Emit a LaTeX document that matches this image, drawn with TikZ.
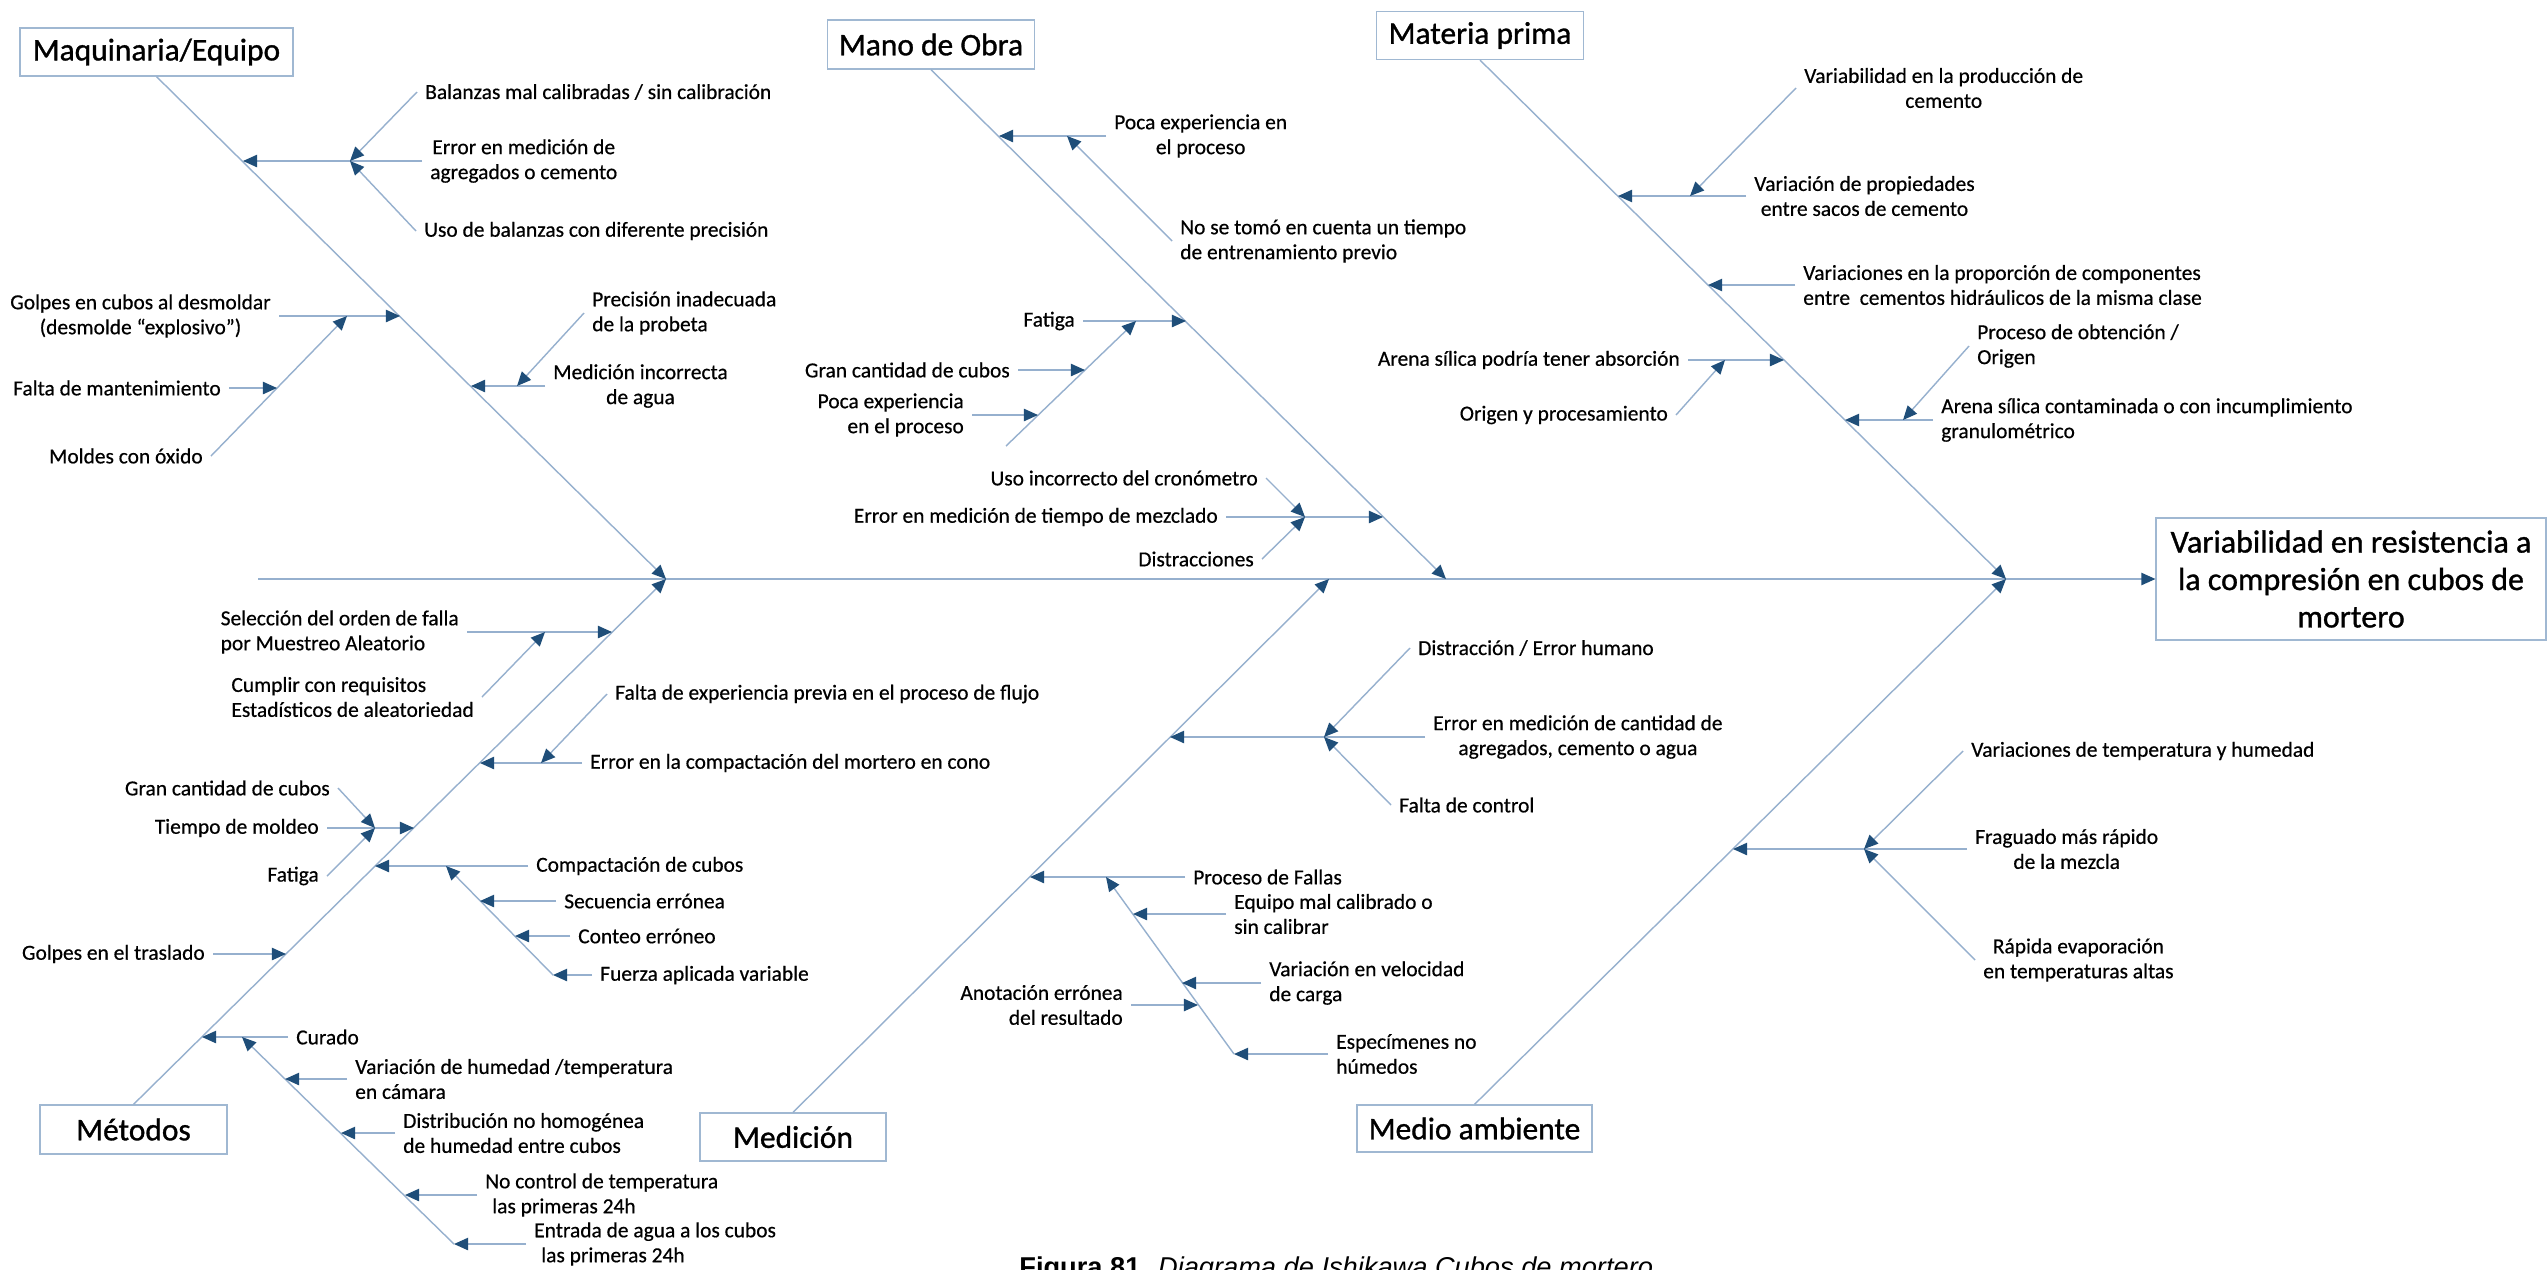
\documentclass[tikz,border=0pt]{standalone}
\usepackage{fontspec}
\setmainfont{Carlito}[FakeBold=0.5]
\newfontfamily\titlefont{Carlito}[FakeBold=1.0]
\newfontfamily\capfont{Liberation Sans}
\usetikzlibrary{arrows.meta}

\definecolor{boneline}{RGB}{150,176,206}
\definecolor{boxline}{RGB}{160,184,210}
\definecolor{tipblue}{RGB}{31,78,121}

\tikzstyle{cat} = [draw=boxline, line width=0.7pt, inner sep=0pt, font=\titlefont\fontsize{17.9}{21}\selectfont]
\tikzstyle{cause} = [inner xsep=4.5pt, inner ysep=1pt, font=\fontsize{12.2}{14.2}\selectfont]

\begin{document}
\begin{tikzpicture}[x=0.02cm, y=-0.02cm]
  \tikzset{arr/.style={draw=boneline, line width=0.8pt, -{Triangle[length=8pt,width=7pt,color=tipblue]}}}
  \fill[white] (0,0) rectangle (2548,1269);
  \useasboundingbox (0,0) rectangle (2548,1269);

  % effect and the six categories
  \node[cat, minimum width=7.8cm, minimum height=2.44cm, align=center, font=\titlefont\fontsize{18.2}{21.3}\selectfont] (effect) at (2351,579)
    {Variabilidad en resistencia a\\la compresión en cubos de\\mortero};
  \node[cat, minimum width=5.46cm, minimum height=0.96cm] (maq) at (156.5,52) {Maquinaria/Equipo};
  \node[cat, minimum width=4.14cm, minimum height=0.98cm] (mano) at (931,44.5) {Mano de Obra};
  \node[cat, minimum width=4.14cm, minimum height=0.96cm] (mat) at (1480,35.5) {Materia prima};
  \node[cat, minimum width=3.74cm, minimum height=0.98cm] (met) at (133.5,1129.5) {Métodos};
  \node[cat, minimum width=3.72cm, minimum height=0.96cm] (med) at (793,1137) {Medición};
  \node[cat, minimum width=4.70cm, minimum height=0.94cm] (amb) at (1474.5,1128.5) {Medio ambiente};

  % spine
  \coordinate (tail) at (258,579);
  \coordinate (J1) at (666,579);
  \coordinate (J2) at (1329,579);
  \coordinate (J3) at (1446,579);
  \coordinate (J4) at (2006,579);
  \draw[arr] (tail) -- (effect.west);
  \draw[arr] (maq.south) -- (J1);
  \draw[arr] (met.north) -- (J1);
  \draw[arr] (med.north) -- (J2);
  \draw[arr] (mano.south) -- (J3);
  \draw[arr] (mat.south) -- (J4);
  \draw[arr] (amb.north) -- (J4);

  % Maquinaria/Equipo
  \node[cause, anchor=west, align=center] (mq1t) at (422,161) {Error en medición de\\agregados o cemento};
  \node[cause, anchor=west] (mq1a) at (417,92) {Balanzas mal calibradas / sin calibración};
  \node[cause, anchor=west] (mq1b) at (416,231) {Uso de balanzas con diferente precisión};
  \coordinate (mq1) at (243,161);
  \coordinate (mq1j) at (350,161);
  \draw[arr] (mq1t.west) -- (mq1);
  \draw[arr] (mq1a.west) -- (mq1j);
  \draw[arr] (mq1b.west) -- (mq1j);

  \node[cause, anchor=east, align=center] (mq2t) at (279,316) {Golpes en cubos al desmoldar\\(desmolde “explosivo”)};
  \node[cause, anchor=east] (mq2a) at (211,456) {Moldes con óxido};
  \node[cause, anchor=east] (mq2b) at (229,388) {Falta de mantenimiento};
  \coordinate (mq2) at (400,316);
  \coordinate (mq2j) at (347,316);
  \coordinate (mq2k) at (277,388);
  \draw[arr] (mq2t.east) -- (mq2);
  \draw[arr] (mq2a.east) -- (mq2j);
  \draw[arr] (mq2b.east) -- (mq2k);

  \node[cause, anchor=west, align=center] (mq3t) at (545,386) {Medición incorrecta\\de agua};
  \node[cause, anchor=west, align=left] (mq3a) at (584,313) {Precisión inadecuada\\de la probeta};
  \coordinate (mq3) at (471,386);
  \coordinate (mq3j) at (517,386);
  \draw[arr] (mq3t.west) -- (mq3);
  \draw[arr] (mq3a.west) -- (mq3j);

  % Mano de Obra
  \node[cause, anchor=west, align=center] (mo1t) at (1106,136) {Poca experiencia en\\el proceso};
  \node[cause, anchor=west, align=left] (mo1a) at (1172,241) {No se tomó en cuenta un tiempo\\de entrenamiento previo};
  \coordinate (mo1) at (999,136);
  \coordinate (mo1j) at (1067,136);
  \draw[arr] (mo1t.west) -- (mo1);
  \draw[arr] (mo1a.west) -- (mo1j);

  \node[cause, anchor=east] (mo2t) at (1083,321) {Fatiga};
  \node[cause, anchor=east] (mo2a) at (1018,370) {Gran cantidad de cubos};
  \node[cause, anchor=east, align=right] (mo2b) at (972,415) {Poca experiencia\\en el proceso};
  \coordinate (mo2) at (1186,321);
  \coordinate (mo2j) at (1136,321);
  \coordinate (mo2s) at (1006,446);
  \coordinate (mo2k) at (1085,370);
  \coordinate (mo2l) at (1038,415);
  \draw[arr] (mo2t.east) -- (mo2);
  \draw[arr] (mo2s) -- (mo2j);
  \draw[arr] (mo2a.east) -- (mo2k);
  \draw[arr] (mo2b.east) -- (mo2l);

  \node[cause, anchor=east] (mo3t) at (1226,517) {Error en medición de tiempo de mezclado};
  \node[cause, anchor=east] (mo3a) at (1266,478) {Uso incorrecto del cronómetro};
  \node[cause, anchor=east] (mo3b) at (1262,559) {Distracciones};
  \coordinate (mo3) at (1383,517);
  \coordinate (mo3j) at (1305,517);
  \draw[arr] (mo3t.east) -- (mo3);
  \draw[arr] (mo3a.east) -- (mo3j);
  \draw[arr] (mo3b.east) -- (mo3j);

  % Materia prima
  \node[cause, anchor=west, align=center] (mp1t) at (1746,196) {Variación de propiedades\\entre sacos de cemento};
  \node[cause, anchor=west, align=center] (mp1a) at (1796,88) {Variabilidad en la producción de\\cemento};
  \coordinate (mp1) at (1618,196);
  \coordinate (mp1j) at (1690,196);
  \draw[arr] (mp1t.west) -- (mp1);
  \draw[arr] (mp1a.west) -- (mp1j);

  \node[cause, anchor=west, align=left] (mp2t) at (1795,285) {Variaciones en la proporción de componentes\\entre\ \ cementos hidráulicos de la misma clase};
  \coordinate (mp2) at (1708,285);
  \draw[arr] (mp2t.west) -- (mp2);

  \node[cause, anchor=east] (mp3t) at (1688,360) {Arena sílica podría tener absorción};
  \node[cause, anchor=east] (mp3a) at (1676,415) {Origen y procesamiento};
  \coordinate (mp3) at (1784,360);
  \coordinate (mp3j) at (1725,360);
  \draw[arr] (mp3t.east) -- (mp3);
  \draw[arr] (mp3a.east) -- (mp3j);

  \node[cause, anchor=west, align=left] (mp4t) at (1933,420) {Arena sílica contaminada o con incumplimiento\\granulométrico};
  \node[cause, anchor=west, align=left] (mp4a) at (1969,346) {Proceso de obtención /\\Origen};
  \coordinate (mp4) at (1845,420);
  \coordinate (mp4j) at (1903,420);
  \draw[arr] (mp4t.west) -- (mp4);
  \draw[arr] (mp4a.west) -- (mp4j);

  % Métodos
  \node[cause, anchor=east, align=left] (mt1t) at (467,632) {Selección del orden de falla\\por Muestreo Aleatorio};
  \node[cause, anchor=east, align=left] (mt1a) at (482,697) {Cumplir con requisitos\\Estadísticos de aleatoriedad};
  \coordinate (mt1) at (612,632);
  \coordinate (mt1j) at (545,632);
  \draw[arr] (mt1t.east) -- (mt1);
  \draw[arr] (mt1a.east) -- (mt1j);

  \node[cause, anchor=west] (mt2t) at (582,763) {Error en la compactación del mortero en cono};
  \node[cause, anchor=west] (mt2a) at (607,694) {Falta de experiencia previa en el proceso de flujo};
  \coordinate (mt2) at (480,763);
  \coordinate (mt2j) at (541,763);
  \draw[arr] (mt2t.west) -- (mt2);
  \draw[arr] (mt2a.west) -- (mt2j);

  \node[cause, anchor=east] (mt3t) at (327,828) {Tiempo de moldeo};
  \node[cause, anchor=east] (mt3a) at (338,788) {Gran cantidad de cubos};
  \node[cause, anchor=east] (mt3b) at (327,876) {Fatiga};
  \coordinate (mt3) at (414,828);
  \coordinate (mt3j) at (375,828);
  \draw[arr] (mt3t.east) -- (mt3);
  \draw[arr] (mt3a.east) -- (mt3j);
  \draw[arr] (mt3b.east) -- (mt3j);

  \node[cause, anchor=west] (mt4t) at (528,866) {Compactación de cubos};
  \node[cause, anchor=west] (mt4a) at (556,901) {Secuencia errónea};
  \node[cause, anchor=west] (mt4b) at (570,936) {Conteo erróneo};
  \node[cause, anchor=west] (mt4c) at (592,975) {Fuerza aplicada variable};
  \coordinate (mt4) at (375,866);
  \coordinate (mt4j) at (446,866);
  \coordinate (mt4k) at (480,901);
  \coordinate (mt4l) at (515,936);
  \coordinate (mt4m) at (553,975);
  \draw[arr] (mt4t.west) -- (mt4);
  \draw[arr] (mt4m) -- (mt4j);
  \draw[arr] (mt4a.west) -- (mt4k);
  \draw[arr] (mt4b.west) -- (mt4l);
  \draw[arr] (mt4c.west) -- (mt4m);

  \node[cause, anchor=east] (mt5t) at (213,954) {Golpes en el traslado};
  \coordinate (mt5) at (286,954);
  \draw[arr] (mt5t.east) -- (mt5);

  \node[cause, anchor=west] (mt6t) at (288,1037) {Curado};
  \node[cause, anchor=west, align=left] (mt6a) at (347,1079) {Variación de humedad /temperatura\\en cámara};
  \node[cause, anchor=west, align=left] (mt6b) at (395,1133) {Distribución no homogénea\\de humedad entre cubos};
  \node[cause, anchor=west, align=left] (mt6c) at (477,1195) {No control de temperatura\\\hspace*{4pt}las primeras 24h};
  \node[cause, anchor=west, align=left] (mt6d) at (526,1244) {Entrada de agua a los cubos\\\hspace*{4pt}las primeras 24h};
  \coordinate (mt6) at (202,1037);
  \coordinate (mt6j) at (242,1037);
  \coordinate (mt6k) at (285,1079);
  \coordinate (mt6l) at (341,1133);
  \coordinate (mt6m) at (405,1195);
  \coordinate (mt6n) at (454,1244);
  \draw[arr] (mt6t.west) -- (mt6);
  \draw[arr] (mt6n) -- (mt6j);
  \draw[arr] (mt6a.west) -- (mt6k);
  \draw[arr] (mt6b.west) -- (mt6l);
  \draw[arr] (mt6c.west) -- (mt6m);
  \draw[arr] (mt6d.west) -- (mt6n);

  % Medición
  \node[cause, anchor=west, align=center] (md1t) at (1425,737) {Error en medición de cantidad de\\agregados, cemento o agua};
  \node[cause, anchor=west] (md1a) at (1410,648) {Distracción / Error humano};
  \node[cause, anchor=west] (md1b) at (1391,805) {Falta de control};
  \coordinate (md1) at (1170,737);
  \coordinate (md1j) at (1324,737);
  \draw[arr] (md1t.west) -- (md1);
  \draw[arr] (md1a.west) -- (md1j);
  \draw[arr] (md1b.west) -- (md1j);

  \node[cause, anchor=west] (md2t) at (1185,877) {Proceso de Fallas};
  \node[cause, anchor=west, align=left] (md2a) at (1226,914) {Equipo mal calibrado o\\sin calibrar};
  \node[cause, anchor=west, align=left] (md2b) at (1261,983) {Variación en velocidad\\de carga};
  \node[cause, anchor=east, align=right] (md2c) at (1131,1005) {Anotación errónea\\del resultado};
  \node[cause, anchor=west, align=left] (md2d) at (1328,1054) {Especímenes no\\húmedos};
  \coordinate (md2) at (1030,877);
  \coordinate (md2j) at (1106,877);
  \coordinate (md2k) at (1133,914);
  \coordinate (md2l) at (1182,983);
  \coordinate (md2m) at (1198,1005);
  \coordinate (md2n) at (1234,1054);
  \draw[arr] (md2t.west) -- (md2);
  \draw[arr] (md2n) -- (md2j);
  \draw[arr] (md2a.west) -- (md2k);
  \draw[arr] (md2b.west) -- (md2l);
  \draw[arr] (md2c.east) -- (md2m);
  \draw[arr] (md2d.west) -- (md2n);

  % Medio ambiente
  \node[cause, anchor=west, align=center] (ma1t) at (1967,849) {Fraguado más rápido\\de la mezcla};
  \node[cause, anchor=west] (ma1a) at (1963,751) {Variaciones de temperatura y humedad};
  \node[cause, anchor=west, align=center] (ma1b) at (1975,960) {Rápida evaporación\\en temperaturas altas};
  \coordinate (ma1) at (1733,849);
  \coordinate (ma1j) at (1864,849);
  \draw[arr] (ma1t.west) -- (ma1);
  \draw[arr] (ma1a.west) -- (ma1j);
  \draw[arr] (ma1b.west) -- (ma1j);

  \node[anchor=base west, inner sep=0pt, font=\capfont\fontsize{15.5}{18}\selectfont] (cap) at (1019,1276)
    {\textbf{Figura 81.} \textit{Diagrama de Ishikawa Cubos de mortero}};
\end{tikzpicture}
\end{document}
